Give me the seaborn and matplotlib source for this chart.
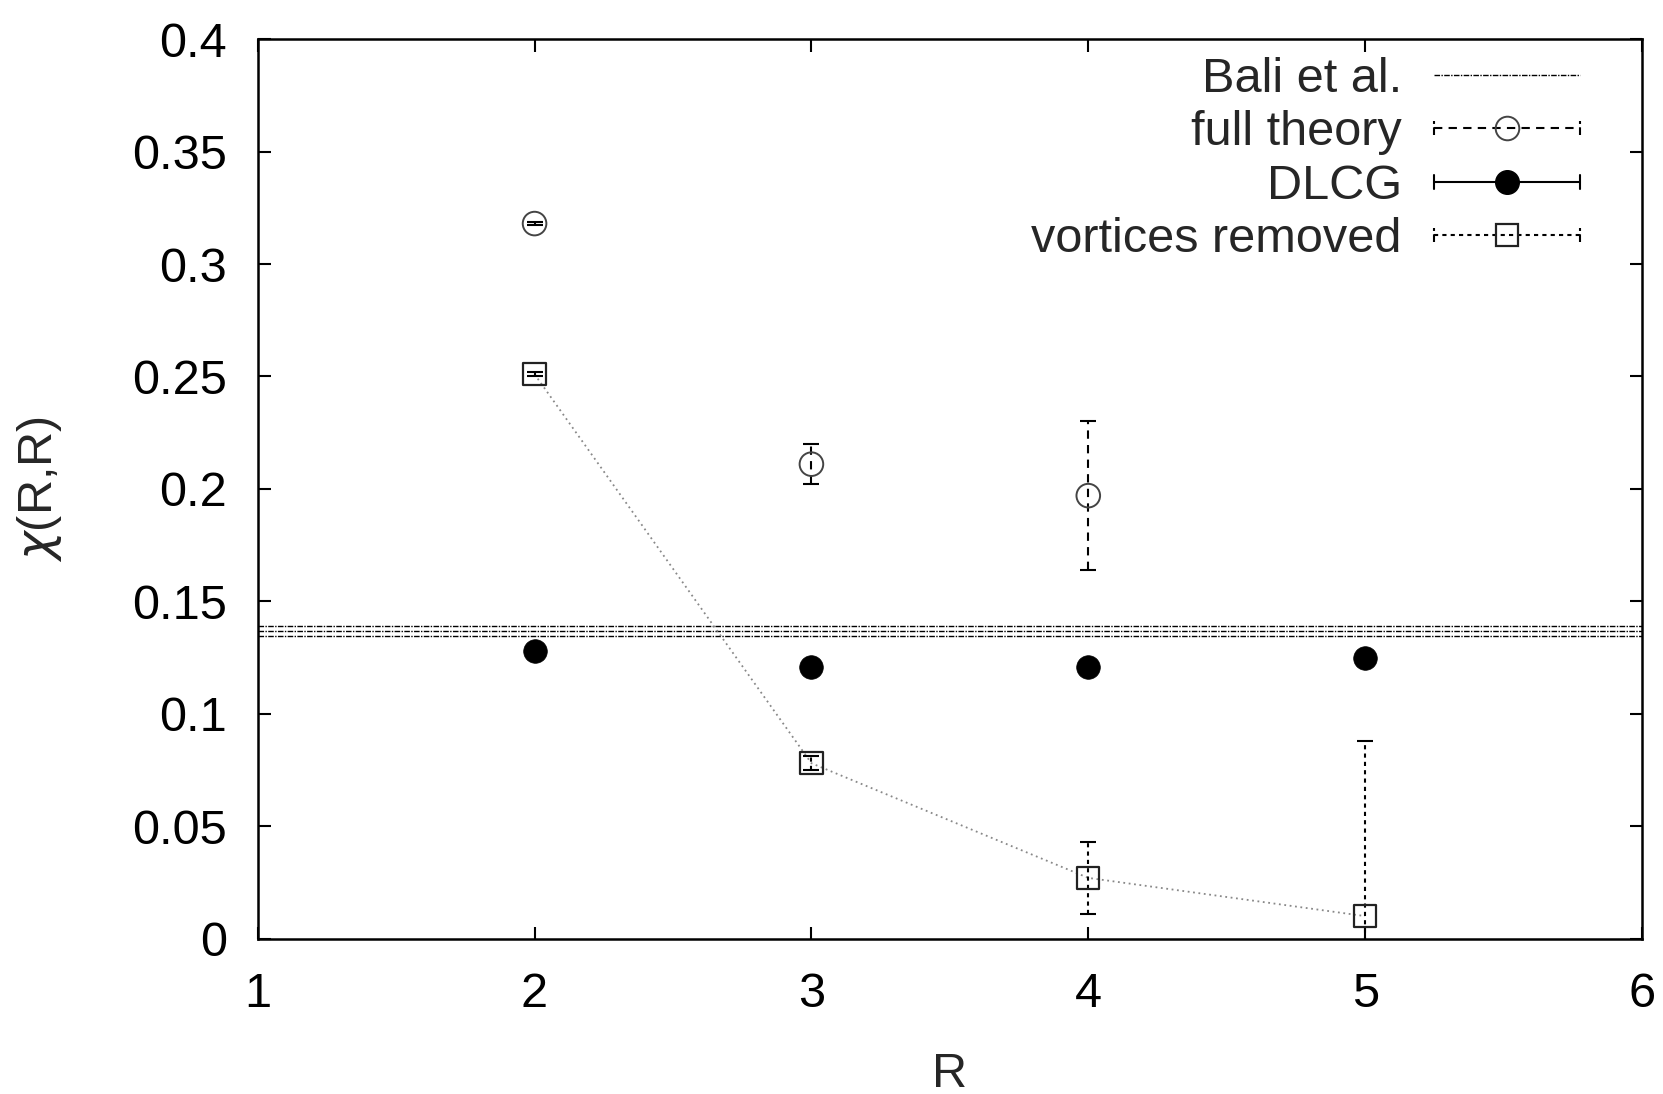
import matplotlib
matplotlib.use("Agg")
import matplotlib.pyplot as plt
from matplotlib.lines import Line2D
from matplotlib.legend_handler import HandlerLine2D
import numpy as np
import pandas as pd
import seaborn as sns

# Data
R_vals = [2, 3, 4, 5]
full_R = [2, 3, 4]
full_chi = [0.318, 0.211, 0.197]
full_err = [0.0005, 0.009, 0.033]
dlcg_chi = [0.128, 0.121, 0.121, 0.125]
dlcg_err = [0.001, 0.001, 0.001, 0.001]
vort_chi = [0.251, 0.078, 0.027, 0.010]
vort_err = [0.001, 0.003, 0.016, 0.078]
bali_lines = [0.1392, 0.1367, 0.1348]

sns.set_theme(style="white")
plt.rcParams["font.family"] = ["Liberation Sans", "DejaVu Sans"]
plt.rcParams["mathtext.fontset"] = "dejavusans"

fig = plt.figure(figsize=(16.63, 10.94), dpi=100)
ax = fig.add_axes([257.7 / 1663, 1 - 938.6 / 1094, (1642 - 257.7) / 1663, (938.6 - 39.2) / 1094])

FS = 35
dashdot = (0, (4, 1, 1, 1))

# Bali et al. band
for y in bali_lines:
    ax.axhline(y, color="black", lw=1.0, ls=dashdot, zorder=1)

vort_df = pd.DataFrame({"R": R_vals, "chi": vort_chi})
sns.lineplot(data=vort_df, x="R", y="chi", ax=ax, color="#888888", lw=1.3,
             linestyle=(0, (1, 2)), zorder=2)

# error bars
eb = ax.errorbar(full_R, full_chi, yerr=full_err, fmt="none", ecolor="black",
                 elinewidth=1.5, capsize=6, capthick=1.5, zorder=3)
eb[2][0].set_linestyle((0, (4, 3)))
ax.errorbar(R_vals, dlcg_chi, yerr=dlcg_err, fmt="none", ecolor="black",
            elinewidth=1.5, capsize=6, capthick=1.5, zorder=3)
eb = ax.errorbar(R_vals, vort_chi, yerr=vort_err, fmt="none", ecolor="black",
                 elinewidth=1.5, capsize=6, capthick=1.5, zorder=3)
eb[2][0].set_linestyle((0, (2, 2)))

full_df = pd.DataFrame({"R": full_R, "chi": full_chi})
dlcg_df = pd.DataFrame({"R": R_vals, "chi": dlcg_chi})
sns.scatterplot(data=full_df, x="R", y="chi", ax=ax, marker="o", s=17 ** 2,
                facecolor="none", edgecolor="#444444", linewidth=1.4, zorder=4)
sns.scatterplot(data=dlcg_df, x="R", y="chi", ax=ax, marker="o", s=17 ** 2,
                color="black", edgecolor="black", linewidth=0.5, zorder=4)
sns.scatterplot(data=vort_df, x="R", y="chi", ax=ax, marker="s", s=16 ** 2,
                facecolor="none", edgecolor="#222222", linewidth=1.6, zorder=4)

ax.set_xlim(1, 6)
ax.set_ylim(0, 0.4)
ax.set_xticks([1, 2, 3, 4, 5, 6])
ax.set_yticks(np.arange(0, 0.401, 0.05))
ax.set_yticklabels(["0", "0.05", "0.1", "0.15", "0.2", "0.25", "0.3", "0.35", "0.4"])
ax.tick_params(direction="in", length=9, width=1.5, labelsize=FS, top=True, right=True,
               bottom=True, left=True, colors="black")
ax.tick_params(axis="y", pad=22)
ax.tick_params(axis="x", pad=24)
for sp in ax.spines.values():
    sp.set_linewidth(1.8)
    sp.set_color("black")
ax.set_xlabel("R", fontsize=FS, labelpad=25)
ax.set_ylabel(r"$\chi$(R,R)", fontsize=FS, labelpad=49)


class CapHandler(HandlerLine2D):
    def create_artists(self, legend, orig_handle, xdescent, ydescent, width, height,
                       fontsize, trans):
        arts = super().create_artists(legend, orig_handle, xdescent, ydescent, width,
                                      height, fontsize, trans)
        if getattr(orig_handle, "_caps", False):
            y = height / 2 - ydescent
            h = 5
            for x in (-xdescent, -xdescent + width):
                c = Line2D([x, x], [y - h, y + h], color="black", lw=1.5,
                           ls=orig_handle.get_linestyle(), transform=trans)
                arts.append(c)
        return arts


h_bali = Line2D([], [], color="black", lw=1.0, ls=dashdot)
h_full = Line2D([], [], color="black", lw=1.5, ls=(0, (4, 3)), marker="o", markersize=17,
                markerfacecolor="none", markeredgecolor="#444444", markeredgewidth=1.4)
h_full._caps = True
h_dlcg = Line2D([], [], color="black", lw=1.5, ls="-", marker="o", markersize=17,
                markerfacecolor="black", markeredgecolor="black")
h_dlcg._caps = True
h_vort = Line2D([], [], color="black", lw=1.5, ls=(0, (2, 2)), marker="s", markersize=16,
                markerfacecolor="none", markeredgecolor="#222222", markeredgewidth=1.6)
h_vort._caps = True

leg = ax.legend([h_bali, h_full, h_dlcg, h_vort],
                ["Bali et al.", "full theory", "DLCG", "vortices removed"],
                handler_map={Line2D: CapHandler(numpoints=1)},
                loc="upper right", bbox_to_anchor=(0.955, 0.980), frameon=False,
                fontsize=FS, markerfirst=False, handlelength=3.0, handletextpad=0.66,
                labelspacing=0.17, borderpad=0, borderaxespad=0)

fig.savefig("out.png", dpi=100, facecolor="white")
